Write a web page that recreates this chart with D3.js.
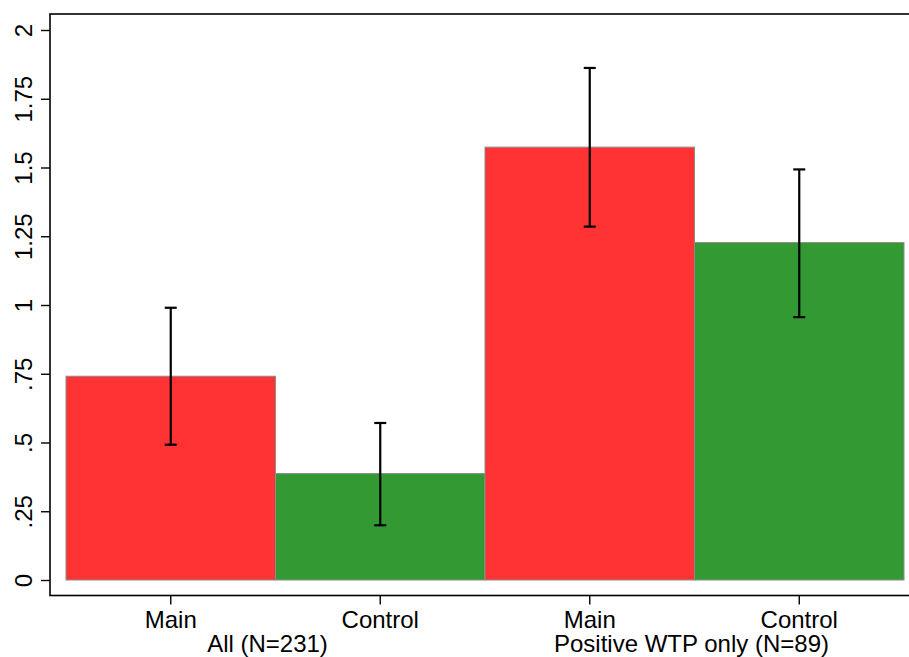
<!DOCTYPE html>
<html>
<head>
<meta charset="utf-8">
<script src="https://cdn.jsdelivr.net/npm/d3@7"></script>
<style>
html,body{margin:0;padding:0;background:#fff;}
svg{display:block;font-family:"Liberation Sans",Arial,Helvetica,sans-serif;}
</style>
</head>
<body>
<svg id="chart" width="909" height="657"></svg>
<script>
const categories = ["Main", "Control", "Main", "Control"];
const groups = ["All (N=231)", "Positive WTP only (N=89)"];
const groupOf = [0, 0, 1, 1];
const means = [0.741, 0.387, 1.574, 1.227];
const ciLow = [0.492, 0.199, 1.285, 0.956];
const ciHigh = [0.990, 0.571, 1.862, 1.493];
const yTicks = [0, 0.25, 0.5, 0.75, 1, 1.25, 1.5, 1.75, 2];
const yTickLabels = ["0", ".25", ".5", ".75", "1", "1.25", "1.5", "1.75", "2"];
const colors = ["#ff3333", "#339933", "#ff3333", "#339933"];

const svg = d3.select("#chart");
const frame = {left: 50, top: 14, right: 915, bottom: 595.5};

const x = d3.scaleBand().domain(d3.range(categories.length)).range([66, 904]).padding(0);
const y = d3.scaleLinear().domain([0, 2]).range([580, 30]);

// frame
svg.append("rect")
  .attr("x", frame.left).attr("y", frame.top)
  .attr("width", frame.right - frame.left).attr("height", frame.bottom - frame.top)
  .attr("fill", "none").attr("stroke", "#000").attr("stroke-width", 1.6);

// bars
svg.append("g").selectAll("rect").data(means).join("rect")
  .attr("x", (d, i) => x(i))
  .attr("y", d => y(d))
  .attr("width", x.bandwidth())
  .attr("height", d => y(0) - y(d))
  .attr("fill", (d, i) => colors[i])
  .attr("stroke", "#8c8c8c").attr("stroke-width", 1);

// error bars
const eb = svg.append("g").attr("stroke", "#000").attr("stroke-width", 2.2);
means.forEach((m, i) => {
  const cx = x(i) + x.bandwidth() / 2;
  eb.append("line").attr("x1", cx).attr("x2", cx).attr("y1", y(ciLow[i])).attr("y2", y(ciHigh[i]));
  [ciLow[i], ciHigh[i]].forEach(v => {
    eb.append("line").attr("x1", cx - 6).attr("x2", cx + 6).attr("y1", y(v)).attr("y2", y(v));
  });
});

// y axis
const yAxis = d3.axisLeft(y).tickValues(yTicks).tickSize(9).tickPadding(0)
  .tickFormat((d, i) => yTickLabels[i]);
const gy = svg.append("g").attr("transform", `translate(${frame.left},0)`).call(yAxis);
gy.select(".domain").remove();
gy.selectAll(".tick line").attr("stroke", "#000").attr("stroke-width", 1.4);
gy.selectAll(".tick text")
  .attr("x", null).attr("dy", null)
  .attr("transform", "translate(-18,0) rotate(-90)")
  .attr("text-anchor", "middle")
  .attr("dy", "0em")
  .attr("fill", "#000")
  .style("font-size", "24px")
  .style("font-family", "'Liberation Sans', Arial, sans-serif");

// x axis
const xAxis = d3.axisBottom(x).tickSize(9).tickPadding(0).tickFormat((d, i) => categories[i]);
const gx = svg.append("g").attr("transform", `translate(0,${frame.bottom})`).call(xAxis);
gx.select(".domain").remove();
gx.selectAll(".tick line").attr("stroke", "#000").attr("stroke-width", 1.4);
gx.selectAll(".tick text")
  .attr("y", 32.5).attr("dy", null)
  .attr("fill", "#000")
  .style("font-size", "24px")
  .style("font-family", "'Liberation Sans', Arial, sans-serif");

// group labels
const groupDx = [-8, -3];
svg.append("g").selectAll("text").data(groups).join("text")
  .attr("x", (g, gi) => {
    const idx = groupOf.map((v, i) => v === gi ? i : -1).filter(i => i >= 0);
    const c = d3.mean(idx, i => x(i) + x.bandwidth() / 2);
    return c + groupDx[gi];
  })
  .attr("y", 652)
  .attr("text-anchor", "middle")
  .attr("fill", "#000")
  .style("font-size", "24px")
  .text(d => d);
</script>
</body>
</html>
